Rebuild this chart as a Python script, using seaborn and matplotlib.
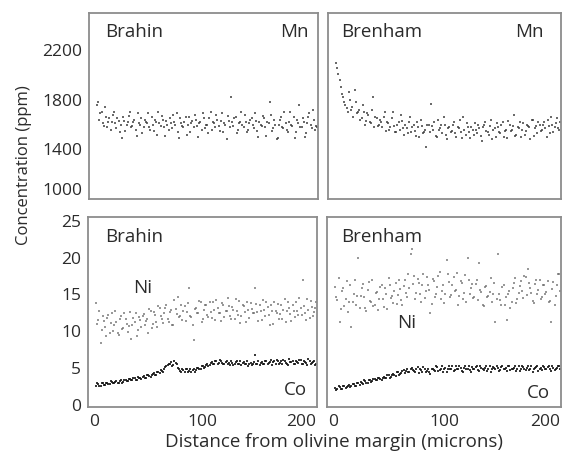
import matplotlib
matplotlib.use("Agg")
import matplotlib.pyplot as plt
import seaborn as sns
import pandas as pd

# ---------------- data ----------------
dist_even = [6, 8, 10, 12, 14, 16, 18, 20, 22, 24,
             26, 28, 30, 32, 34, 36, 38, 40, 42, 44,
             46, 48, 50, 52, 54, 56, 58, 60, 62, 64,
             66, 68, 70, 72, 74, 76, 78, 80, 82, 84,
             86, 88, 90, 92, 94, 96, 98, 100, 102, 104,
             106, 108, 110, 112, 114, 116, 118, 120, 122, 124,
             126, 128, 130, 132, 134, 136, 138, 140, 142, 144,
             146, 148, 150, 152, 154, 156, 158, 160, 162, 164,
             166, 168, 170, 172, 174, 176, 178, 180, 182, 184,
             186, 188, 190, 192, 194, 196, 198, 200]
dist_odd = [7, 9, 11, 13, 15, 17, 19, 21, 23, 25,
            27, 29, 31, 33, 35, 37, 39, 41, 43, 45,
            47, 49, 51, 53, 55, 57, 59, 61, 63, 65,
            67, 69, 71, 73, 75, 77, 79, 81, 83, 85,
            87, 89, 91, 93, 95, 97, 99, 101, 103, 105,
            107, 109, 111, 113, 115, 117, 119, 121, 123, 125,
            127, 129, 131, 133, 135, 137, 139, 141, 143, 145,
            147, 149, 151, 153, 155, 157, 159, 161, 163, 165,
            167, 169, 171, 173, 175, 177, 179, 181, 183, 185,
            187, 189, 191, 193, 195, 197, 199]

brahin_mn_even = [1760, 1640, 1700, 1590, 1660, 1620, 1560, 1680, 1610, 1650,
                  1540, 1490, 1630, 1600, 1670, 1580, 1620, 1560, 1690, 1600,
                  1530, 1640, 1610, 1580, 1660, 1550, 1620, 1700, 1590, 1640,
                  1510, 1600, 1650, 1570, 1620, 1690, 1490, 1610, 1580, 1660,
                  1600, 1540, 1630, 1680, 1590, 1610, 1560, 1650, 1600, 1530,
                  1700, 1620, 1580, 1640, 1550, 1690, 1610, 1480, 1630, 1820,
                  1590, 1660, 1560, 1620, 1600, 1680, 1540, 1610, 1650, 1570,
                  1630, 1500, 1600, 1670, 1580, 1620, 1780, 1550, 1640, 1480,
                  1600, 1660, 1570, 1610, 1540, 1700, 1590, 1490, 1640, 1760,
                  1580, 1620, 1530, 1660, 1600, 1720, 1560, 1580]
brahin_mn_odd = [1780, 1690, 1610, 1740, 1580, 1650, 1620, 1700, 1570, 1630,
                 1600, 1660, 1550, 1620, 1700, 1590, 1640, 1510, 1610, 1650,
                 1580, 1620, 1690, 1560, 1600, 1640, 1520, 1610, 1670, 1580,
                 1630, 1560, 1610, 1680, 1600, 1540, 1650, 1590, 1620, 1520,
                 1660, 1610, 1580, 1640, 1500, 1620, 1690, 1570, 1600, 1650,
                 1560, 1610, 1680, 1590, 1630, 1540, 1600, 1670, 1580, 1620,
                 1650, 1530, 1610, 1700, 1580, 1620, 1560, 1640, 1600, 1690,
                 1550, 1620, 1590, 1650, 1510, 1610, 1680, 1570, 1600, 1490,
                 1640, 1580, 1700, 1560, 1620, 1600, 1660, 1540, 1610, 1580,
                 1650, 1500, 1610, 1690, 1570, 1640, 1590]

brenham_mn_even = [2100, 2010, 1900, 1820, 1760, 1700, 1800, 1740, 1880, 1690,
                   1720, 1650, 1700, 1630, 1680, 1610, 1820, 1660, 1590, 1640,
                   1580, 1700, 1620, 1560, 1650, 1590, 1540, 1620, 1680, 1570,
                   1600, 1530, 1660, 1580, 1550, 1620, 1500, 1590, 1540, 1420,
                   1600, 1770, 1560, 1510, 1640, 1570, 1530, 1600, 1480, 1580,
                   1550, 1620, 1500, 1570, 1540, 1660, 1520, 1580, 1490, 1560,
                   1610, 1530, 1570, 1470, 1600, 1550, 1520, 1640, 1560, 1500,
                   1580, 1530, 1620, 1550, 1490, 1600, 1560, 1680, 1520, 1570,
                   1500, 1610, 1550, 1590, 1480, 1640, 1570, 1530, 1600, 1560,
                   1620, 1500, 1590, 1660, 1540, 1610, 1570, 1620]
brenham_mn_odd = [2060, 1960, 1850, 1780, 1730, 1860, 1720, 1660, 1780, 1700,
                  1640, 1760, 1600, 1690, 1620, 1720, 1580, 1650, 1600, 1620,
                  1660, 1550, 1610, 1580, 1700, 1540, 1600, 1560, 1630, 1520,
                  1570, 1620, 1540, 1600, 1510, 1580, 1640, 1530, 1560, 1600,
                  1540, 1590, 1620, 1500, 1560, 1600, 1660, 1520, 1570, 1540,
                  1600, 1530, 1580, 1640, 1490, 1560, 1610, 1540, 1580, 1520,
                  1560, 1600, 1510, 1580, 1620, 1540, 1590, 1480, 1570, 1610,
                  1540, 1600, 1500, 1560, 1630, 1550, 1590, 1510, 1580, 1620,
                  1560, 1520, 1600, 1580, 1640, 1510, 1590, 1620, 1550, 1600,
                  1570, 1640, 1530, 1600, 1580, 1650, 1560]

brahin_ni_even = [13.8, 11.5, 8.4, 12.0, 10.6, 11.8, 9.8, 12.4, 10.9, 11.3,
                  9.5, 12.1, 10.4, 11.7, 9.9, 12.6, 10.8, 11.2, 9.3, 11.9,
                  10.6, 12.3, 11.4, 9.8, 12.8, 11.0, 12.2, 10.5, 13.1, 11.6,
                  12.4, 13.5, 11.2, 12.9, 10.8, 13.0, 14.6, 12.1, 11.5, 13.4,
                  12.6, 15.8, 11.9, 8.8, 13.2, 12.4, 14.0, 11.6, 13.5, 12.2,
                  13.9, 11.8, 12.9, 14.2, 12.5, 11.4, 13.6, 12.8, 14.5, 12.1,
                  13.3, 11.6, 12.7, 14.1, 12.0, 13.4, 11.3, 12.9, 13.8, 12.4,
                  15.8, 12.6, 13.5, 11.5, 12.9, 14.0, 12.2, 13.6, 11.0, 12.8,
                  13.7, 12.3, 11.6, 14.3, 12.8, 13.2, 11.4, 12.7, 13.9, 12.2,
                  13.1, 17.0, 12.5, 14.4, 11.8, 13.3, 12.6, 14.0]
brahin_ni_odd = [11.0, 12.7, 10.2, 11.4, 9.4, 12.2, 11.1, 10.0, 12.8, 9.7,
                 11.6, 10.3, 12.5, 11.0, 10.7, 9.0, 11.8, 12.4, 10.1, 11.5,
                 12.0, 10.9, 11.7, 13.0, 10.4, 12.6, 11.3, 13.4, 12.0, 11.1,
                 13.2, 11.7, 12.6, 10.9, 14.2, 12.3, 11.9, 13.6, 12.8, 11.4,
                 13.8, 12.1, 10.9, 13.0, 12.5, 14.1, 11.2, 12.9, 13.6, 11.9,
                 12.6, 14.0, 11.5, 13.2, 12.4, 13.8, 11.9, 12.7, 13.4, 11.6,
                 12.9, 14.4, 12.2, 11.1, 13.5, 12.6, 14.0, 11.8, 13.0, 12.5,
                 13.7, 11.4, 12.8, 14.2, 12.1, 13.3, 10.9, 12.7, 13.9, 12.4,
                 11.7, 13.5, 12.9, 11.2, 14.0, 12.3, 13.6, 11.9, 12.8, 14.5,
                 12.2, 13.4, 11.5, 12.9, 14.1, 12.0, 13.2]

brahin_co_even = [2.6, 2.8, 2.5, 2.9, 2.7, 3.0, 2.8, 3.1, 2.9, 3.2,
                  3.0, 3.3, 3.1, 3.4, 3.2, 3.5, 3.3, 3.6, 3.4, 3.7,
                  3.5, 3.9, 3.7, 4.0, 3.8, 4.2, 4.0, 4.4, 4.3, 4.6,
                  4.9, 5.2, 5.5, 5.8, 5.4, 5.7, 5.0, 4.6, 4.9, 4.5,
                  4.8, 4.6, 4.4, 4.9, 4.7, 5.0, 4.8, 5.3, 5.1, 5.5,
                  5.4, 5.8, 5.5, 6.0, 5.7, 5.9, 5.5, 5.8, 5.6, 5.4,
                  5.7, 5.5, 5.9, 5.6, 5.4, 5.8, 5.6, 5.3, 5.7, 5.5,
                  6.8, 5.6, 5.4, 5.8, 5.5, 5.9, 5.7, 6.1, 5.8, 5.6,
                  6.0, 5.7, 5.5, 5.9, 5.6, 6.2, 5.8, 5.5, 5.9, 5.7,
                  6.1, 5.6, 5.8, 5.4, 6.0, 5.7, 5.9, 5.5]
brahin_co_odd = [2.9, 2.6, 3.0, 2.7, 2.9, 2.8, 3.2, 2.9, 3.1, 3.0,
                 3.2, 3.0, 3.4, 3.2, 3.5, 3.3, 3.6, 3.4, 3.8, 3.6,
                 3.8, 3.6, 4.1, 3.9, 4.1, 4.3, 4.1, 4.5, 4.7, 4.4,
                 5.1, 5.4, 5.6, 5.3, 6.0, 5.5, 4.8, 4.4, 4.7, 4.9,
                 4.5, 4.9, 4.7, 4.5, 5.0, 4.8, 5.2, 5.0, 5.4, 5.2,
                 5.7, 5.5, 5.9, 5.6, 6.1, 5.7, 5.5, 6.0, 5.7, 5.9,
                 5.4, 5.8, 5.6, 6.0, 5.7, 5.5, 5.9, 5.6, 5.4, 5.8,
                 5.5, 5.9, 5.7, 5.5, 6.0, 5.6, 5.8, 5.4, 5.9, 6.1,
                 5.6, 5.9, 6.1, 5.7, 5.4, 5.8, 6.0, 5.6, 5.8, 6.1,
                 5.5, 5.9, 5.7, 6.2, 5.6, 5.8, 5.4]

brenham_ni_even = [16.0, 14.2, 11.2, 15.5, 13.4, 16.8, 14.0, 10.5, 15.1, 13.6,
                   19.9, 14.8, 16.4, 13.2, 15.6, 14.1, 17.0, 13.5, 15.3, 14.4,
                   16.2, 13.3, 15.0, 17.2, 14.5, 13.8, 16.5, 14.9, 15.7, 13.6,
                   16.9, 14.7, 15.8, 21.2, 17.5, 15.2, 16.6, 13.9, 17.8, 15.4,
                   16.3, 12.4, 17.1, 14.6, 16.0, 18.0, 15.5, 13.8, 19.6, 16.7,
                   14.9, 17.4, 15.6, 13.5, 16.8, 14.3, 17.6, 19.9, 15.1, 16.4,
                   14.6, 16.9, 19.2, 15.3, 13.4, 16.1, 14.8, 17.2, 15.0, 11.2,
                   20.5, 14.2, 16.0, 13.6, 11.5, 15.4, 14.0, 16.6, 13.8, 15.2,
                   16.8, 14.5, 17.3, 18.5, 15.9, 14.1, 16.4, 15.0, 17.0, 14.6,
                   16.2, 15.3, 14.0, 11.2, 16.7, 14.8, 17.8, 15.5]
brenham_ni_odd = [14.6, 17.2, 13.0, 15.8, 14.4, 12.6, 16.3, 13.9, 17.0, 14.8,
                  13.1, 15.9, 14.6, 12.8, 16.7, 14.0, 13.4, 15.2, 12.9, 16.0,
                  14.3, 15.8, 13.0, 16.3, 14.8, 15.5, 13.7, 17.0, 14.2, 16.1,
                  15.2, 17.8, 20.5, 16.4, 14.3, 17.1, 15.0, 16.2, 14.5, 17.3,
                  15.6, 13.7, 16.8, 15.0, 17.5, 14.4, 16.3, 15.1, 17.7, 14.6,
                  16.2, 15.4, 17.9, 14.8, 16.5, 15.2, 14.0, 17.0, 15.8, 14.5,
                  16.4, 14.2, 15.6, 13.6, 16.0, 14.7, 15.3, 13.9, 16.6, 14.4,
                  15.1, 13.5, 16.3, 14.6, 15.0, 13.2, 15.8, 17.2, 14.3, 16.1,
                  15.4, 17.5, 14.9, 16.6, 15.2, 13.8, 16.9, 15.6, 14.4, 16.3,
                  15.0, 16.8, 14.1, 15.7, 13.5, 16.2, 17.8]

brenham_co_even = [2.3, 2.1, 2.4, 2.2, 2.6, 2.4, 2.7, 2.5, 2.8, 2.6,
                   2.9, 3.1, 2.8, 3.2, 3.0, 3.4, 3.2, 3.5, 3.3, 3.6,
                   3.4, 3.8, 3.6, 4.0, 3.8, 4.2, 3.9, 4.5, 4.2, 4.6,
                   4.3, 4.8, 4.4, 5.0, 4.6, 4.9, 4.3, 4.7, 5.1, 4.5,
                   4.8, 4.2, 4.9, 4.6, 5.1, 4.7, 5.2, 4.8, 4.5, 5.3,
                   4.9, 4.6, 5.2, 4.8, 5.0, 4.5, 5.3, 4.9, 4.7, 5.1,
                   4.8, 5.2, 4.6, 5.0, 4.7, 5.3, 4.9, 4.5, 5.1, 4.8,
                   5.0, 4.7, 5.3, 4.9, 4.6, 5.2, 4.8, 5.0, 4.6, 5.3,
                   4.9, 5.1, 4.7, 5.2, 4.8, 4.5, 5.0, 5.3, 4.9, 4.7,
                   5.1, 4.8, 5.2, 4.6, 5.0, 4.9, 5.3, 4.8]
brenham_co_odd = [2.0, 2.5, 2.2, 2.6, 2.3, 2.5, 2.4, 2.8, 2.6, 2.9,
                  2.7, 3.0, 3.3, 3.0, 3.3, 3.1, 3.5, 3.3, 3.7, 3.5,
                  3.7, 3.6, 4.0, 3.7, 4.1, 4.0, 4.4, 4.1, 4.3, 4.7,
                  4.6, 4.4, 4.9, 4.7, 4.5, 5.1, 4.8, 4.4, 4.9, 4.6,
                  4.5, 4.9, 4.7, 5.2, 4.6, 4.9, 4.4, 5.0, 4.8, 4.9,
                  5.2, 4.7, 4.9, 5.3, 4.6, 5.0, 4.8, 5.2, 4.5, 4.9,
                  5.1, 4.7, 5.3, 4.9, 5.0, 4.6, 5.2, 4.8, 5.0, 5.3,
                  4.6, 5.1, 4.8, 5.0, 5.3, 4.7, 4.9, 5.2, 4.8, 4.6,
                  5.2, 4.8, 5.0, 4.7, 5.3, 4.9, 5.1, 4.6, 5.0, 5.2,
                  4.8, 5.1, 4.9, 5.3, 4.7, 5.0, 5.2]

mn_ticks = [1000, 1200, 1400, 1600, 1800, 2000, 2200, 2400]
mn_labels = ["1000", "", "1400", "", "1800", "", "2200", ""]
trace_ticks = [0, 5, 10, 15, 20, 25]
trace_labels = ["0", "5", "10", "15", "20", "25"]
x_label_ticks = [0, 100, 200]
x_labels = ["0", "100", "200"]
x_minor_ticks = [50, 100, 150]


def frame(even_vals, odd_vals):
    return pd.DataFrame({
        "distance": dist_even + dist_odd,
        "value": even_vals + odd_vals,
    })


# ---------------- style ----------------
sns.set_style("white")
plt.rcParams["font.family"] = ["Open Sans", "DejaVu Sans"]
TXT = "#2b2b2b"
SPINE = "#8c8c8c"

fig = plt.figure(figsize=(5.66, 4.57), dpi=100)
W, H = 566, 457


def add_ax(x0, y0, x1, y1):
    return fig.add_axes([x0 / W, 1 - y1 / H, (x1 - x0) / W, (y1 - y0) / H])


ax_tl = add_ax(89, 13, 318, 199)
ax_tr = add_ax(328, 13, 561, 199)
ax_bl = add_ax(88, 217, 317, 407)
ax_br = add_ax(327, 217, 561, 407)

mk = dict(marker="s", linewidth=0, legend=False, s=3.5)
sns.scatterplot(data=frame(brahin_mn_even, brahin_mn_odd), x="distance", y="value",
                ax=ax_tl, color="#3a3a3a", alpha=0.75, **mk)
sns.scatterplot(data=frame(brenham_mn_even, brenham_mn_odd), x="distance", y="value",
                ax=ax_tr, color="#3a3a3a", alpha=0.75, **mk)
sns.scatterplot(data=frame(brahin_ni_even, brahin_ni_odd), x="distance", y="value",
                ax=ax_bl, color="#6e6e6e", alpha=0.7, **mk)
sns.scatterplot(data=frame(brahin_co_even, brahin_co_odd), x="distance", y="value",
                ax=ax_bl, color="#151515", alpha=0.85, **mk)
sns.scatterplot(data=frame(brenham_ni_even, brenham_ni_odd), x="distance", y="value",
                ax=ax_br, color="#6e6e6e", alpha=0.7, **mk)
sns.scatterplot(data=frame(brenham_co_even, brenham_co_odd), x="distance", y="value",
                ax=ax_br, color="#151515", alpha=0.85, **mk)

for ax in (ax_tl, ax_tr, ax_bl, ax_br):
    ax.set_xlim(-1, 200.5)
    ax.set_xlabel("")
    ax.set_ylabel("")
    for sp in ax.spines.values():
        sp.set_color(SPINE)
        sp.set_linewidth(1.3)
    ax.set_xticks(x_label_ticks)
    ax.set_xticks(x_minor_ticks, minor=True)
    ax.tick_params(axis="x", which="major", length=0, pad=5,
                   labelsize=12.5, labelcolor=TXT)
    ax.tick_params(axis="x", which="minor", direction="in", length=2.5,
                   width=0.9, color=SPINE)
    ax.tick_params(axis="y", direction="in", length=2.5, width=0.9,
                   color=SPINE, labelsize=12.5, labelcolor=TXT, pad=5)

for ax in (ax_tl, ax_tr):
    ax.set_ylim(1000, 2500)
    ax.set_xticklabels([])
for ax in (ax_bl, ax_br):
    ax.set_ylim(-0.3, 25.5)
    ax.set_xticklabels(x_labels)
    lbls = ax.get_xticklabels()
    lbls[0].set_horizontalalignment("left")
    lbls[-1].set_horizontalalignment("right")

ax_tl.set_yticks(mn_ticks)
ax_tl.set_yticklabels(mn_labels)
ax_tl.get_yticklabels()[0].set_verticalalignment("bottom")
ax_tr.set_yticks(mn_ticks)
ax_tr.set_yticklabels([])
ax_bl.set_yticks(trace_ticks)
ax_bl.set_yticklabels(trace_labels)
ax_br.set_yticks(trace_ticks)
ax_br.set_yticklabels([])

tk = dict(fontsize=13.5, color=TXT, va="center")
ax_tl.text(0.07, 0.898, "Brahin", transform=ax_tl.transAxes, ha="left", **tk)
ax_tl.text(0.96, 0.898, "Mn", transform=ax_tl.transAxes, ha="right", **tk)
ax_tr.text(0.056, 0.898, "Brenham", transform=ax_tr.transAxes, ha="left", **tk)
ax_tr.text(0.927, 0.898, "Mn", transform=ax_tr.transAxes, ha="right", **tk)
ax_bl.text(0.074, 0.895, "Brahin", transform=ax_bl.transAxes, ha="left", **tk)
ax_bl.text(0.197, 0.626, "Ni", transform=ax_bl.transAxes, ha="left", **tk)
ax_bl.text(0.956, 0.089, "Co", transform=ax_bl.transAxes, ha="right", **tk)
ax_br.text(0.06, 0.895, "Brenham", transform=ax_br.transAxes, ha="left", **tk)
ax_br.text(0.30, 0.442, "Ni", transform=ax_br.transAxes, ha="left", **tk)
ax_br.text(0.953, 0.074, "Co", transform=ax_br.transAxes, ha="right", **tk)

fig.text(24 / W, 1 - 165 / H, "Concentration (ppm)", rotation=90,
         ha="center", va="center", fontsize=12, color=TXT)
fig.text(334 / W, 1 - 442 / H, "Distance from olivine margin (microns)",
         ha="center", va="center", fontsize=13.5, color=TXT)

fig.savefig("out.png", dpi=100)
